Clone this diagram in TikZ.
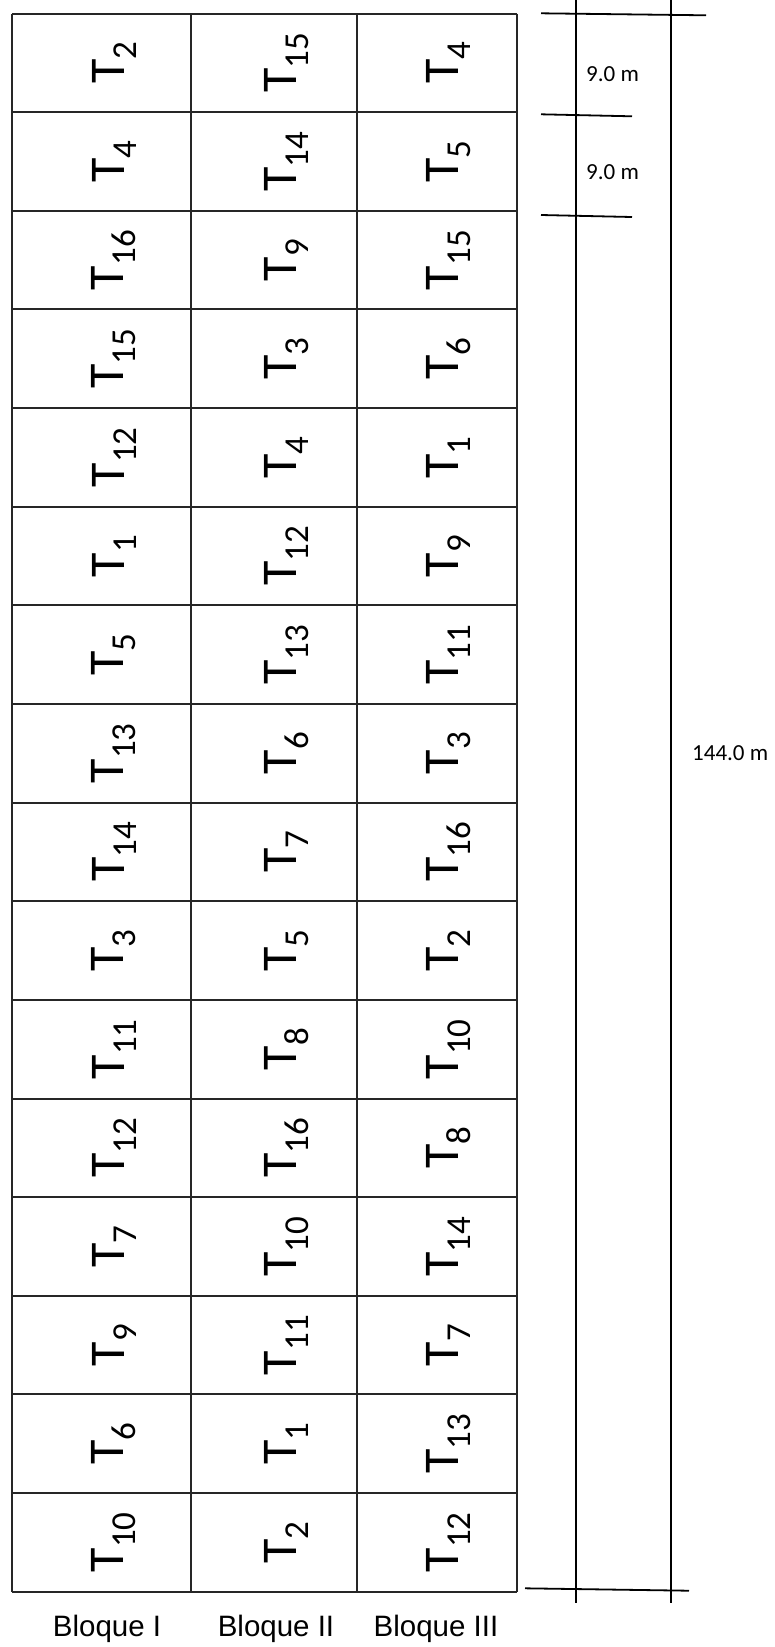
\documentclass[tikz,border=0pt]{standalone}
\usepackage{fontspec}
\setmainfont{Carlito}
\newfontfamily\blockfont{Liberation Sans}

\newcommand{\plotlabel}[1]{T\raisebox{-0.24em}{\fontsize{35}{35}\selectfont #1}}

\tikzset{
  plotline/.style={line width=2pt, black!85},
  treatment/.style={rotate=90, inner sep=0pt, font=\fontsize{50}{60}\selectfont},
  dimline/.style={line width=1.8pt},
  dimtext/.style={anchor=west, inner sep=0pt, font=\fontsize{23}{28}\selectfont},
  blocktext/.style={anchor=base, inner sep=0pt, font=\blockfont\fontsize{29.5}{35}\selectfont}
}

\begin{document}
\begin{tikzpicture}[x=1pt,y=-1pt]
  \useasboundingbox (0,0) rectangle (775,1647);

  % plots
  \foreach \k in {0,...,16}
    \draw[plotline] (12,{13.5+\k*98.64}) -- (517,{13.5+\k*98.64});
  \foreach \xx in {12,191,357,517}
    \draw[plotline] (\xx,13.5) -- (\xx,1591.7);

  % treatments
  \foreach \a/\b/\c [count=\r from 0] in {2/15/4, 4/14/5, 16/9/15, 15/3/6,
      12/4/1, 1/12/9, 5/13/11, 13/6/3, 14/7/16, 3/5/2, 11/8/10,
      12/16/8, 7/10/14, 9/11/7, 6/1/13, 10/2/12} {
    \node[treatment] (ta-\r) at (114,{62.8+\r*98.64}) {\plotlabel{\a}};
    \node[treatment] (tb-\r) at (286.5,{62.8+\r*98.64}) {\plotlabel{\b}};
    \node[treatment] (tc-\r) at (448.5,{62.8+\r*98.64}) {\plotlabel{\c}};
  }

  % dimensions
  \draw[dimline] (541,13.3) -- (706,15.3);
  \draw[dimline] (541,114.3) -- (632,116.3);
  \draw[dimline] (541,215) -- (632,217);
  \draw[dimline] (525,1588.3) -- (689,1590.7);
  \draw[dimline] (576,0) -- (576,1603);
  \draw[dimline] (671,0) -- (671,1603);

  \node[dimtext] (d1) at (586,74) {9.0 m};
  \node[dimtext] (d2) at (586,172) {9.0 m};
  \node[dimtext] (dall) at (692,753) {144.0 m};

  % blocks
  \node[blocktext] (b1) at (107,1636.7) {Bloque I};
  \node[blocktext] (b2) at (276,1636.7) {Bloque II};
  \node[blocktext] (b3) at (436,1636.7) {Bloque III};
\end{tikzpicture}
\end{document}
